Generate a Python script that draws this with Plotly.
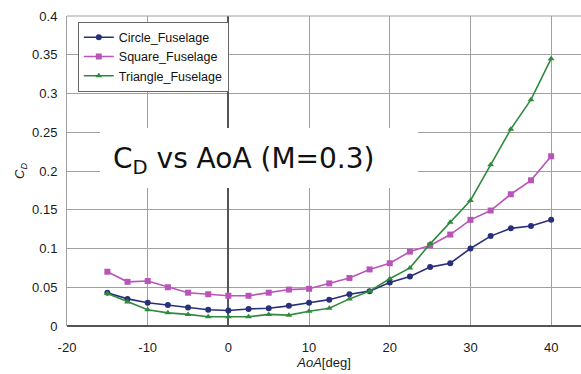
import plotly.graph_objects as go

aoa = [-15, -12.5, -10, -7.5, -5, -2.5, 0, 2.5, 5, 7.5, 10, 12.5, 15, 17.5,
       20, 22.5, 25, 27.5, 30, 32.5, 35, 37.5, 40]
circle = [0.043, 0.035, 0.030, 0.027, 0.024, 0.021, 0.020, 0.022, 0.023, 0.026,
          0.030, 0.034, 0.041, 0.045, 0.056, 0.064, 0.076, 0.081, 0.100, 0.116,
          0.126, 0.129, 0.137]
square = [0.070, 0.057, 0.058, 0.050, 0.043, 0.041, 0.039, 0.039, 0.043, 0.047,
          0.048, 0.055, 0.062, 0.073, 0.081, 0.096, 0.104, 0.118, 0.137, 0.149,
          0.170, 0.188, 0.219]
triangle = [0.042, 0.031, 0.021, 0.017, 0.015, 0.012, 0.012, 0.012, 0.015, 0.014,
            0.019, 0.023, 0.035, 0.045, 0.061, 0.075, 0.106, 0.134, 0.162, 0.208,
            0.254, 0.292, 0.345]
x_ticks = [-20, -10, 0, 10, 20, 30, 40]
x_ticktext = ["-20", "-10", "0", "10", "20", "30", "40"]
y_ticks = [0, 0.05, 0.1, 0.15, 0.2, 0.25, 0.3, 0.35, 0.4]
y_ticktext = ["0", "0.05", "0.1", "0.15", "0.2", "0.25", "0.3", "0.35", "0.4"]

series = [
    ("Circle_Fuselage", circle, "#28307a", "circle"),
    ("Square_Fuselage", square, "#b955b9", "square"),
    ("Triangle_Fuselage", triangle, "#2f8a3c", "triangle-up"),
]

FONT = "Liberation Sans, Arial, sans-serif"
TITLE_FONT = "DejaVu Sans, Liberation Sans, sans-serif"

fig = go.Figure()
for name, vals, color, sym in series:
    fig.add_trace(go.Scatter(
        x=aoa, y=vals, name=name, mode="lines+markers",
        line=dict(color=color, width=1.6),
        marker=dict(symbol=sym, size=6, color=color),
    ))

fig.update_layout(
    width=581, height=374,
    margin=dict(l=67, r=0, t=16, b=48, autoexpand=False),
    paper_bgcolor="white", plot_bgcolor="white",
    font=dict(family=FONT, size=13, color="#1a1a1a"),
    showlegend=True,
    legend=dict(
        x=0.021, y=0.982, xanchor="left", yanchor="top",
        bgcolor="white", bordercolor="#666", borderwidth=1,
        font=dict(size=12.5, color="#111"),
        itemwidth=30, tracegroupgap=0,
    ),
    xaxis=dict(
        range=[-20, 43.7], tickvals=x_ticks, ticktext=x_ticktext,
        showgrid=True, gridcolor="#a0a0a0", gridwidth=1,
        zeroline=True, zerolinecolor="#555", zerolinewidth=1.5,
        showline=False, ticks="outside", ticklen=9, tickcolor="rgba(0,0,0,0)",
        automargin=False,
        title=dict(text="<i>AoA</i>[deg]", font=dict(size=13), standoff=0),
    ),
    yaxis=dict(
        range=[0, 0.4], tickvals=y_ticks, ticktext=y_ticktext,
        showgrid=True, gridcolor="#a0a0a0", gridwidth=1,
        zeroline=True, zerolinecolor="#555", zerolinewidth=2,
        showline=True, linecolor="#a0a0a0", mirror=False,
        ticks="outside", ticklen=6, tickcolor="rgba(0,0,0,0)",
        automargin=False,
        title=dict(text="<i>C<sub>D</sub></i>", font=dict(size=13), standoff=4),
    ),
)

# top border of the plot area
fig.add_shape(type="line", xref="paper", yref="paper", x0=0, x1=1, y0=1, y1=1,
              line=dict(color="#a0a0a0", width=1))

# white title box
fig.add_shape(type="rect", xref="paper", yref="paper",
              x0=(100 - 67) / 514, x1=(418 - 67) / 514,
              y0=(326 - 188) / 310, y1=(326 - 128) / 310,
              fillcolor="white", line=dict(width=0), layer="above")
fig.add_annotation(
    text="C<sub>D</sub> vs AoA (M=0.3)", xref="paper", yref="paper",
    x=(111 - 67) / 514, y=(326 - 160) / 310, xanchor="left", yanchor="middle",
    showarrow=False, font=dict(family=TITLE_FONT, size=28, color="#111"),
)

fig.write_html(
    "out.html",
    config={"displayModeBar": False},
    post_script="document.body.style.margin='0';document.body.style.overflow='hidden';",
)
